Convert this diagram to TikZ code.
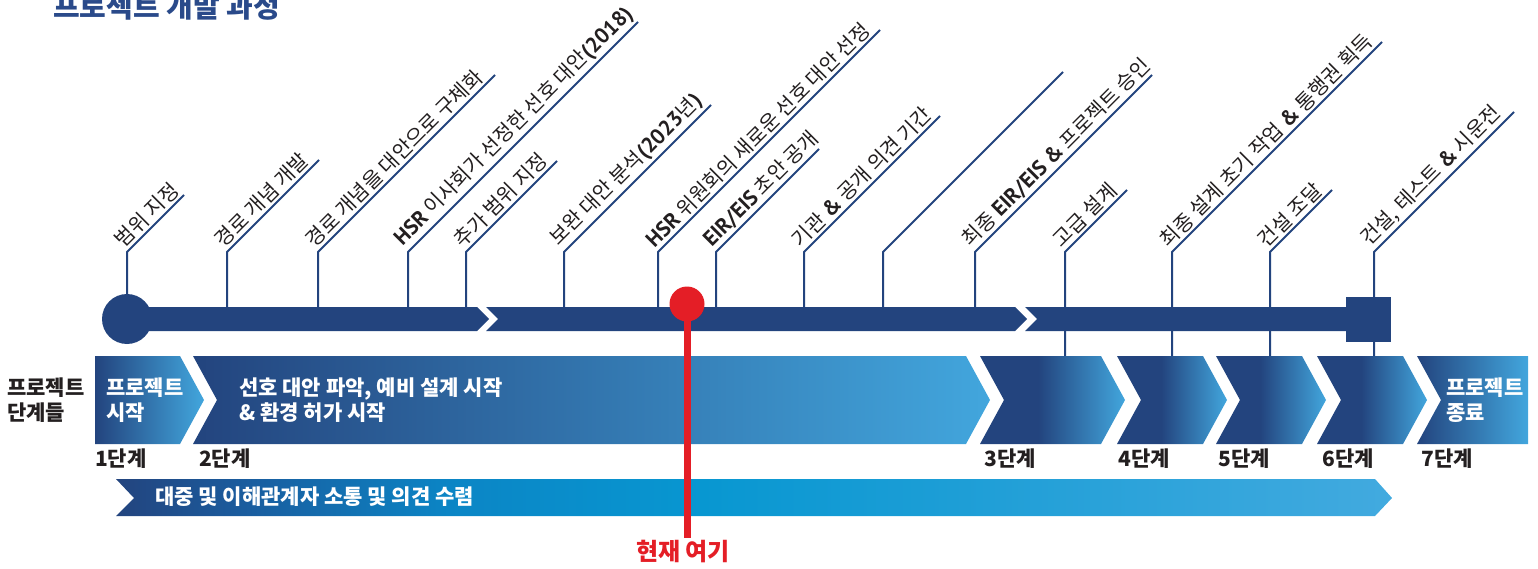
\documentclass[tikz,border=0pt]{standalone}
\usepackage{fontspec}
\setmainfont{Noto Sans CJK KR}
\newfontfamily\latb{PT Sans}
\definecolor{navyc}{HTML}{23447E}
\definecolor{lightc}{HTML}{42A6DD}
\definecolor{redc}{HTML}{E41E26}
\definecolor{txtc}{HTML}{231F20}
\definecolor{titlec}{HTML}{2A4A8A}
\definecolor{cyanc}{HTML}{0897D1}
\definecolor{midc}{HTML}{0B85C5}
\definecolor{deepc}{HTML}{1A5C9E}
\definecolor{commr}{HTML}{42AADF}
\pgfdeclarehorizontalshading{phs}{100bp}{color(0bp)=(navyc); color(25bp)=(navyc); color(45bp)=(navyc); color(75bp)=(lightc); color(100bp)=(lightc)}
\pgfdeclarehorizontalshading{lin}{100bp}{color(0bp)=(navyc); color(25bp)=(navyc); color(75bp)=(lightc); color(100bp)=(lightc)}
\pgfdeclarehorizontalshading{comm}{100bp}{color(0bp)=(navyc); color(25bp)=(navyc); color(30bp)=(deepc); color(38bp)=(midc); color(48bp)=(cyanc); color(75bp)=(commr); color(100bp)=(commr)}
\newcommand{\bld}[1]{{\latb\bfseries\fontsize{21.5}{24}\selectfont #1}}
\tikzset{
  lead/.style={draw=navyc, line width=2pt},
  lab/.style={rotate=45, anchor=south west, inner xsep=0pt, inner ysep=3pt, text=txtc, font=\fontsize{20.5}{24}\selectfont},
  ptext/.style={text=white, anchor=west, align=left, inner sep=0pt, font=\bfseries\fontsize{21}{25}\selectfont},
  stage/.style={text=txtc, anchor=west, inner sep=0pt, font=\bfseries\fontsize{21}{25}\selectfont},
}
\begin{document}
\begin{tikzpicture}[x=1pt,y=-1pt]
\useasboundingbox (0,0) rectangle (1538,569);
% title
\node[anchor=base west, inner sep=0pt, text=titlec, font=\bfseries\fontsize{29}{32}\selectfont] (title) at (53,18) {프로젝트 개발 과정};

% leader coordinates: corner, base, end
\foreach \i/\x/\d/\b in {1/127/57/307, 2/227/92/307, 3/318/177/307, 4/408/230/307, 5/466/91/307, 6/564/147/307, 7/658/222/307, 8/716/103/307, 9/804/136/307, 10/883/180/307, 11/975/177/307, 12/1065/62/356, 13/1172/210/356, 14/1270/62/356, 15/1374/140/356}{
  \coordinate (c\i) at (\x,252);
  \coordinate (b\i) at (\x,\b);
  \coordinate (e\i) at (\x+\d,252-\d);
  \draw[lead] (b\i) -- (c\i) -- (e\i);
}

% labels
\node[lab] (t1) at (c1) {범위 지정};
\node[lab] (t2) at (c2) {경로 개념 개발};
\node[lab] (t3) at (c3) {경로 개념을 대안으로 구체화};
\node[lab] (t4) at (c4) {\bld{HSR} 이사회가 선정한 선호 대안\bld{(2018)}};
\node[lab] (t5) at (c5) {추가 범위 지정};
\node[lab] (t6) at (c6) {보완 대안 분석\bld{(2023}년\bld{)}};
\node[lab] (t7) at (c7) {\bld{HSR} 위원회의 새로운 선호 대안 선정};
\node[lab] (t8) at (c8) {\bld{EIR/EIS} 초안 공개};
\node[lab] (t9) at (c9) {기관 \bld{\&} 공개 의견 기간};
\node[lab] (t11) at (c11) {최종 \bld{EIR/EIS \&} 프로젝트 승인};
\node[lab] (t12) at (c12) {고급 설계};
\node[lab] (t13) at (c13) {최종 설계 초기 작업 \bld{\&} 통행권 획득};
\node[lab] (t14) at (c14) {건설 조달};
\node[lab] (t15) at (c15) {건설, 테스트 \bld{\&} 시운전};

% timeline bar
\fill[navyc] (127,307) -- (477,307) -- (489,319) -- (477,331) -- (127,331) -- cycle;
\fill[navyc] (486,307) -- (1015,307) -- (1027,319) -- (1015,331) -- (486,331) -- (498,319) -- cycle;
\fill[navyc] (1025,307) -- (1350,307) -- (1350,331) -- (1025,331) -- (1037,319) -- cycle;
\fill[navyc] (127,319) circle (25);
\fill[navyc] (1346,297) rectangle (1391,342);

% phases
\shade[shading=lin] (95,356) -- (180,356) -- (204,400) -- (180,444) -- (95,444) -- cycle;
\shade[shading=lin] (193,356) -- (966,356) -- (990,400) -- (966,444) -- (193,444) -- (217,400) -- cycle;
\shade[shading=phs] (980,356) -- (1101,356) -- (1125,400) -- (1101,444) -- (980,444) -- (1004,400) -- cycle;
\shade[shading=phs] (1117,356) -- (1203,356) -- (1227,400) -- (1203,444) -- (1117,444) -- (1141,400) -- cycle;
\shade[shading=phs] (1216,356) -- (1302,356) -- (1326,400) -- (1302,444) -- (1216,444) -- (1240,400) -- cycle;
\shade[shading=phs] (1317,356) -- (1403,356) -- (1427,400) -- (1403,444) -- (1317,444) -- (1341,400) -- cycle;
\shade[shading=lin] (1417,356) -- (1528,356) -- (1528,444) -- (1417,444) -- (1441,400) -- cycle;

\node[ptext] (p1) at (106,400) {프로젝트\\시작};
\node[ptext] (p2) at (239,400) {선호 대안 파악, 예비 설계 시작\\\& 환경 허가 시작};
\node[ptext] (p7) at (1446,400) {프로젝트\\종료};
\node[stage, align=left] (ph) at (7,400) {프로젝트\\단계들};

\node[stage] (s1) at (95,459) {1단계};
\node[stage] (s2) at (199,459) {2단계};
\node[stage] (s3) at (984,459) {3단계};
\node[stage] (s4) at (1118,459) {4단계};
\node[stage] (s5) at (1218,459) {5단계};
\node[stage] (s6) at (1322,459) {6단계};
\node[stage] (s7) at (1421,459) {7단계};

% communication arrow
\shade[shading=comm] (116,479) -- (1375,479) -- (1392,498) -- (1375,516) -- (116,516) -- (134,498) -- cycle;
\node[text=white, anchor=west, inner sep=0pt, font=\bfseries\fontsize{21}{24}\selectfont] (comm) at (155,497) {대중 및 이해관계자 소통 및 의견 수렴};

% current position
\coordinate (rtop) at (687,304);
\node[text=redc, inner sep=0pt, font=\bfseries\fontsize{24}{28}\selectfont] (here) at (683,551) {현재 여기};
\draw[redc, line width=7pt] (rtop) -- (687,538);
\fill[redc] (rtop) circle (17.5);
\end{tikzpicture}
\end{document}
